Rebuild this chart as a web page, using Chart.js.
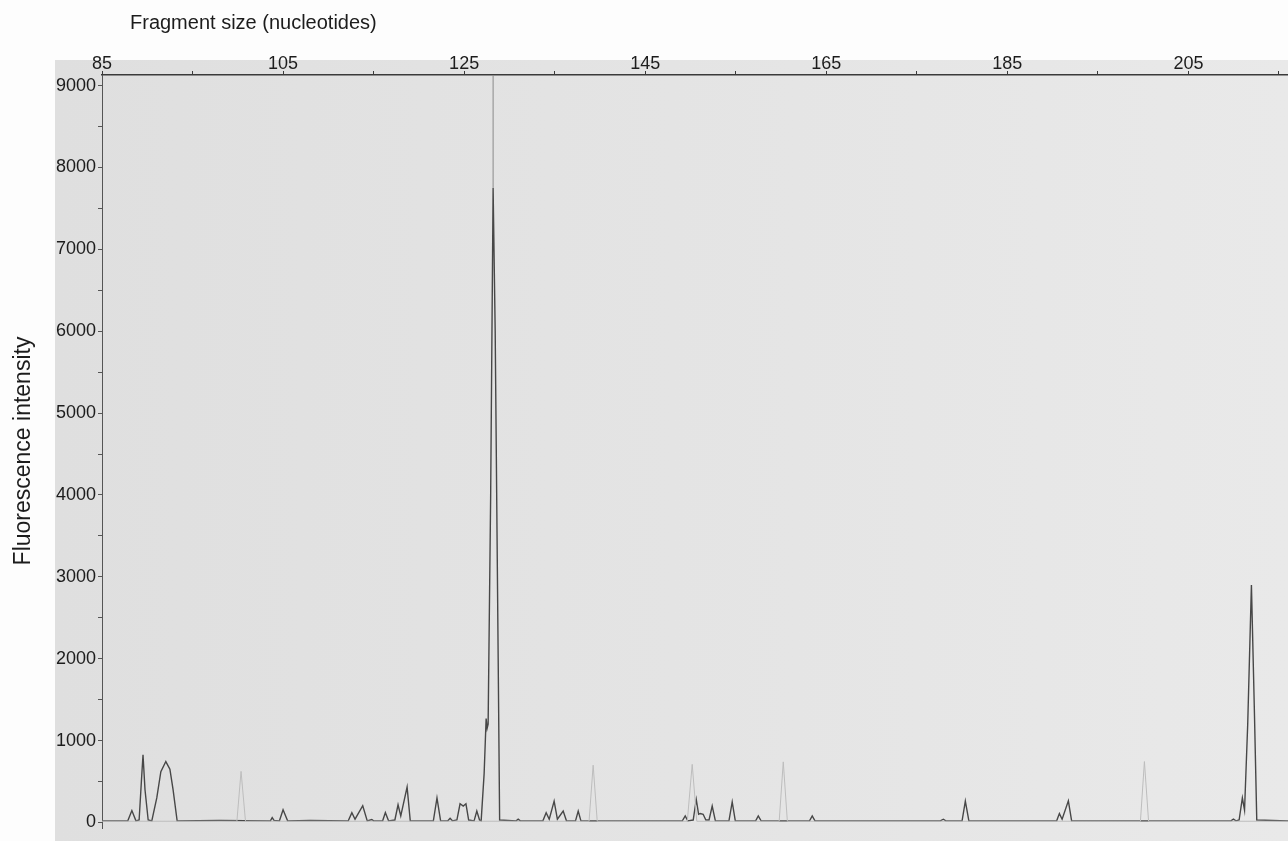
<!DOCTYPE html>
<html>
<head>
<meta charset="utf-8">
<title>Fragment size electropherogram</title>
<script src="https://cdn.jsdelivr.net/npm/chart.js@4.4.1/dist/chart.umd.min.js"></script>
<style>
  html, body { margin: 0; padding: 0; background: #ffffff; overflow: hidden; }
  #wrap { position: relative; width: 1288px; height: 841px; }
</style>
</head>
<body>
<div id="wrap"><canvas id="traceChart"></canvas></div>
<script>
// Axis ticks (minor ones carry no label)
const xTicks = [85, 95, 105, 115, 125, 135, 145, 155, 165, 175, 185, 195, 205, 215];
const xLabels = [85, 105, 125, 145, 165, 185, 205];
const yTicks = [0, 500, 1000, 1500, 2000, 2500, 3000, 3500, 4000, 4500, 5000, 5500, 6000, 6500, 7000, 7500, 8000, 8500, 9000];
const yLabels = [0, 1000, 2000, 3000, 4000, 5000, 6000, 7000, 8000, 9000];

// Sample dye trace (size in nucleotides, fluorescence)
const sampleSize = [
  85.0, 87.85, 88.3, 88.75, 89.1, 89.35, 89.53, 89.75, 90.1, 90.5, 91.05, 91.5, 92.05, 92.5, 92.85, 93.3,
  98.0, 103.6, 103.8, 104.0, 104.6, 105.0, 105.5, 108.0, 112.2, 112.6, 112.95, 113.8, 114.3, 114.8, 115.0,
  116.0, 116.3, 116.65, 117.35, 117.7, 118.0, 118.7, 119.05, 121.6, 122.0, 122.4, 123.2, 123.45, 123.7,
  124.2, 124.55, 124.9, 125.2, 125.5, 126.1, 126.4, 126.7, 126.88, 127.21, 127.43, 127.54, 127.65, 127.93,
  128.2, 128.43, 128.76, 128.92, 130.75, 130.97, 131.2, 133.7, 134.06, 134.4, 134.94, 135.3, 135.94, 136.3,
  137.3, 137.6, 137.9, 149.1, 149.42, 149.7, 150.3, 150.64, 150.9, 151.08, 151.4, 151.7, 152.05, 152.4,
  152.75, 154.25, 154.61, 154.95, 157.2, 157.49, 157.8, 163.15, 163.45, 163.75, 177.6, 177.93, 178.2,
  180.0, 180.36, 180.75, 190.45, 190.75, 191.05, 191.74, 192.1, 209.7, 209.97, 210.25, 210.6, 210.96,
  211.2, 211.55, 211.96, 212.3, 212.55, 216.0
];
const sampleSignal = [
  20, 20, 145, 20, 30, 500, 828, 400, 30, 20, 300, 620, 744, 650, 400, 20,
  25, 20, 60, 25, 20, 156, 20, 25, 20, 120, 40, 204, 20, 36, 20,
  20, 120, 20, 30, 216, 80, 432, 20, 20, 300, 20, 20, 50, 20,
  30, 228, 200, 228, 30, 20, 140, 30, 20, 600, 1270, 1150, 1200, 4000,
  7750, 6000, 2000, 30, 20, 40, 20, 20, 120, 40, 260, 40, 140, 20,
  20, 140, 20, 20, 80, 20, 30, 280, 100, 110, 100, 30, 30, 200,
  20, 20, 250, 20, 20, 80, 20, 20, 80, 20, 20, 40, 20,
  20, 260, 20, 20, 108, 40, 264, 20, 20, 40, 20, 30, 300,
  150, 1200, 2900, 1300, 30, 20
];

// Size standard trace (faint peaks)
const standardSize = [85.0, 99.9, 100.36, 100.85, 138.8, 139.25, 139.7, 149.65, 150.19, 150.7, 159.8, 160.25, 160.7, 199.7, 200.14, 200.6, 216.0];
const standardSignal = [15, 15, 624, 15, 15, 700, 15, 15, 710, 15, 15, 740, 15, 15, 744, 15, 15];

// Cursor line over the main peak
const cursorSize = [128.2, 128.2];
const cursorSignal = [7750, 9130];

const FONT = '"Liberation Sans", Arial, Helvetica, sans-serif';

function toPoints(xs, ys) {
  return xs.map((x, i) => ({ x: x, y: ys[i] }));
}

// Paper background, grey plot panel and the two axis titles
const panelPlugin = {
  id: 'panel',
  beforeDraw(chart) {
    const ctx = chart.ctx;
    ctx.save();
    ctx.fillStyle = '#fdfdfd';
    ctx.fillRect(0, 0, chart.width, chart.height);
    const grad = ctx.createLinearGradient(55, 0, chart.width, 0);
    grad.addColorStop(0, '#dfdfdf');
    grad.addColorStop(1, '#e9e9e9');
    ctx.fillStyle = grad;
    ctx.fillRect(55, 60, chart.width - 55, chart.height - 60);

    ctx.fillStyle = '#1c1c1c';
    ctx.font = '20px ' + FONT;
    ctx.textBaseline = 'middle';
    ctx.textAlign = 'left';
    ctx.fillText('Fragment size (nucleotides)', 130, 23);

    ctx.translate(24, 451);
    ctx.rotate(-Math.PI / 2);
    ctx.font = '23px ' + FONT;
    ctx.textAlign = 'center';
    ctx.fillText('Fluorescence intensity', 0, 0);
    ctx.restore();
  }
};

const chart = new Chart(document.getElementById('traceChart'), {
  type: 'line',
  data: {
    datasets: [
      {
        label: 'Size standard',
        data: toPoints(standardSize, standardSignal),
        borderColor: '#bdbdbd',
        borderWidth: 1,
        pointRadius: 0,
        tension: 0
      },
      {
        label: 'Sample',
        data: toPoints(sampleSize, sampleSignal),
        borderColor: '#474747',
        borderWidth: 1.4,
        pointRadius: 0,
        tension: 0
      },
      {
        label: 'Cursor',
        data: toPoints(cursorSize, cursorSignal),
        borderColor: '#8a8a8a',
        borderWidth: 1,
        pointRadius: 0
      }
    ]
  },
  options: {
    responsive: true,
    maintainAspectRatio: false,
    animation: false,
    layout: { padding: 0 },
    plugins: {
      legend: { display: false },
      tooltip: { enabled: false }
    },
    scales: {
      x: {
        type: 'linear',
        position: 'top',
        min: 85,
        max: 216,
        afterBuildTicks: scale => { scale.ticks = xTicks.map(v => ({ value: v })); },
        afterFit: scale => { scale.height = 75; },
        border: { display: true, color: '#3a3a3a', width: 1.5 },
        grid: { drawOnChartArea: false, drawTicks: true, tickLength: 4, color: '#3a3a3a' },
        ticks: {
          autoSkip: false,
          maxRotation: 0,
          padding: -4,
          color: '#1c1c1c',
          font: { family: FONT, size: 18 },
          callback: v => xLabels.includes(v) ? String(v) : ''
        }
      },
      y: {
        type: 'linear',
        min: -70,
        max: 9130,
        afterBuildTicks: scale => { scale.ticks = yTicks.map(v => ({ value: v })); },
        afterFit: scale => { scale.width = 102; },
        border: { display: true, color: '#555555', width: 1 },
        grid: { drawOnChartArea: false, drawTicks: true, tickLength: 4, color: '#555555' },
        ticks: {
          autoSkip: false,
          padding: 2,
          color: '#1c1c1c',
          font: { family: FONT, size: 18 },
          callback: v => yLabels.includes(v) ? String(v) : ''
        }
      }
    }
  },
  plugins: [panelPlugin]
});
</script>
</body>
</html>
